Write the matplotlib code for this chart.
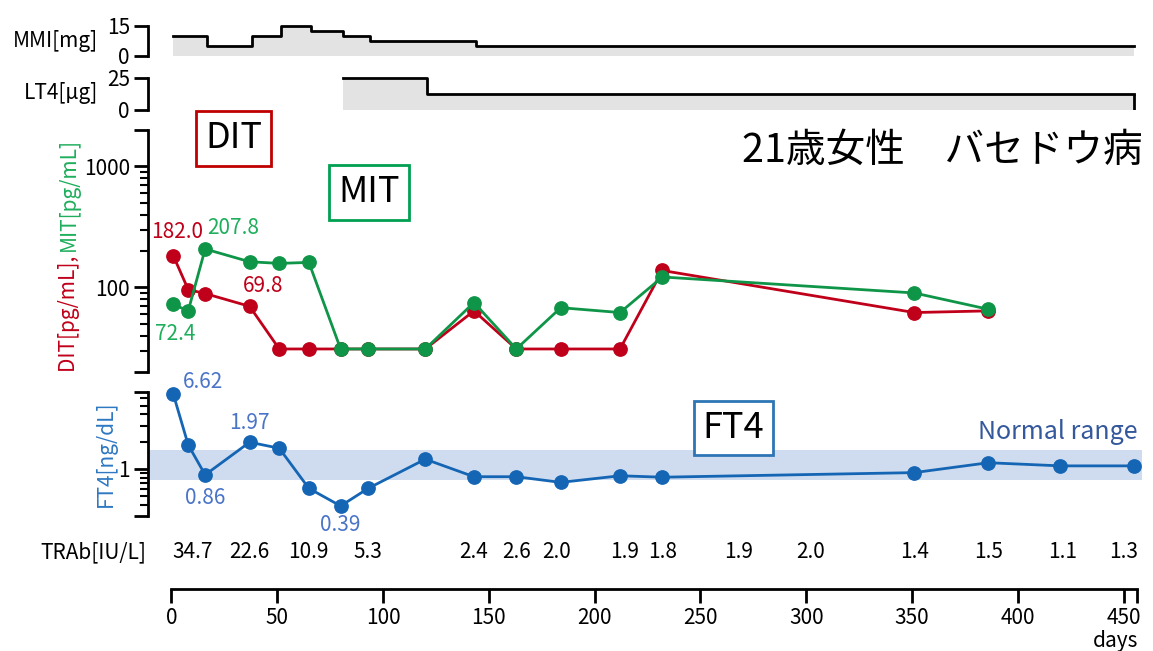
import numpy as np
import matplotlib
matplotlib.use('Agg')
import matplotlib.pyplot as plt
from matplotlib.ticker import FixedLocator, FixedFormatter, LogLocator, NullFormatter

plt.rcParams['font.family'] = ['Noto Sans CJK JP', 'DejaVu Sans']

# 投与量 (MMI, LT4)
mmi_days = [1, 17, 38, 52, 66, 81, 94, 144, 455]
mmi_dose = [10, 5, 10, 15, 12.5, 10, 7.5, 5, 5]
lt4_days = [81, 121, 455]
lt4_dose = [25, 12.5, 12.5]

# DIT / MIT
tg_days = [1, 8, 16, 37, 51, 65, 80, 93, 120, 143, 163, 184, 212, 232, 351, 386]
dit = [182.0, 96, 89, 69.8, 31, 31, 31, 31, 31, 64, 31, 31, 31, 138, 62, 64]
mit = [72.4, 64, 207.8, 163, 158, 161, 31, 31, 31, 75, 31, 68, 62, 122, 90, 66]

# FT4
ft4_days = [1, 8, 16, 37, 51, 65, 80, 93, 120, 143, 163, 184, 212, 232, 351, 386, 420, 455]
ft4 = [6.62, 1.84, 0.86, 1.97, 1.69, 0.61, 0.39, 0.61, 1.28, 0.82, 0.82, 0.71,
       0.84, 0.81, 0.91, 1.17, 1.08, 1.08]
normal_lo, normal_hi = 0.75, 1.6

# TRAb
trab_days = [10, 37, 65, 93, 143, 163, 182, 214, 232, 268, 302, 351, 386, 421, 450]
trab = ['34.7', '22.6', '10.9', '5.3', '2.4', '2.6', '2.0', '1.9', '1.8', '1.9',
        '2.0', '1.4', '1.5', '1.1', '1.3']

RED = '#c0001a'
GREEN = '#0f9548'
GREEN_TXT = '#1fae5c'
BLUE = '#1565b5'
BLUE_TXT = '#4a74c8'
GRAY = '#e3e3e3'

W, H = 1153, 651
fig = plt.figure(figsize=(W / 100, H / 100), dpi=100)

def fx(px):
    return px / W

def fy(py):
    return 1 - py / H

XLIM = (-11, 458.5)
L = fx(148)
AW = (1141.8 - 148) / W

def left_only(ax):
    for s in ['top', 'right', 'bottom']:
        ax.spines[s].set_visible(False)
    ax.spines['left'].set_linewidth(2)
    ax.tick_params(axis='x', bottom=False, labelbottom=False)
    ax.tick_params(axis='y', which='major', length=10, width=2, labelsize=15, pad=3)
    ax.tick_params(axis='y', which='minor', length=6, width=1.5)
    ax.set_xlim(XLIM)
    ax.patch.set_visible(False)

# MMI
ax_mmi = fig.add_axes([L, fy(56), AW, (56 - 25.7) / H])
left_only(ax_mmi)
ax_mmi.fill_between(mmi_days, mmi_dose, step='post', color=GRAY, lw=0)
ax_mmi.step(mmi_days, mmi_dose, where='post', color='black', lw=2, clip_on=False)
ax_mmi.set_ylim(0, 15)
ax_mmi.set_yticks([0, 15])
fig.text(fx(98), fy(41), 'MMI[mg]', ha='right', va='center', fontsize=15)

# LT4
ax_lt4 = fig.add_axes([L, fy(110), AW, (110 - 78) / H])
left_only(ax_lt4)
ax_lt4.fill_between(lt4_days, lt4_dose, step='post', color=GRAY, lw=0)
ax_lt4.step(lt4_days, lt4_dose, where='post', color='black', lw=2, clip_on=False)
ax_lt4.vlines(lt4_days[-1], 0, lt4_dose[-1], color='black', lw=2)
ax_lt4.set_ylim(0, 25)
ax_lt4.set_yticks([0, 25])
fig.text(fx(98), fy(93), 'LT4[μg]', ha='right', va='center', fontsize=15)

# DIT / MIT
ax_tg = fig.add_axes([L, fy(372), AW, (372 - 130) / H])
left_only(ax_tg)
ax_tg.set_yscale('log')
ax_tg.set_ylim(20, 2000)
ax_tg.yaxis.set_major_locator(FixedLocator([20, 100, 1000, 2000]))
ax_tg.yaxis.set_major_formatter(FixedFormatter(['', '100', '1000', '']))
ax_tg.yaxis.set_minor_locator(LogLocator(base=10, subs=np.arange(2, 10)))
ax_tg.yaxis.set_minor_formatter(NullFormatter())
ax_tg.plot(tg_days, dit, '-o', color=RED, lw=2, ms=9.6, zorder=3, clip_on=False)
ax_tg.plot(tg_days, mit, '-o', color=GREEN, lw=2, ms=9.6, zorder=4, clip_on=False)

def label(ax, x, y, s, dx, dy, color):
    ax.annotate(s, (x, y), xytext=(dx * 0.72, -dy * 0.72), textcoords='offset points',
                ha='center', va='center', fontsize=15, color=color, zorder=5)

label(ax_tg, tg_days[0], dit[0], '182.0', 4, -24, RED)
label(ax_tg, tg_days[3], dit[3], '69.8', 14, -20, RED)
label(ax_tg, tg_days[2], mit[2], '207.8', 28, -21, GREEN_TXT)
label(ax_tg, tg_days[0], mit[0], '72.4', 2, 30, GREEN_TXT)

# FT4
ax_ft = fig.add_axes([L, fy(516.3), AW, (516.3 - 392.3) / H])
left_only(ax_ft)
ax_ft.set_yscale('log')
ax_ft.set_ylim(0.3, 7)
ax_ft.yaxis.set_major_locator(FixedLocator([0.3, 1, 7]))
ax_ft.yaxis.set_major_formatter(FixedFormatter(['', '1', '']))
ax_ft.yaxis.set_minor_locator(LogLocator(base=10, subs=np.arange(2, 10)))
ax_ft.yaxis.set_minor_formatter(NullFormatter())
ax_ft.axhspan(normal_lo, normal_hi, color='#cfdcef', lw=0, zorder=0)
ax_ft.plot(ft4_days, ft4, '-o', color=BLUE, lw=2, ms=9.6, zorder=3, clip_on=False)
label(ax_ft, ft4_days[0], ft4[0], '6.62', 30, -12, BLUE_TXT)
label(ax_ft, ft4_days[2], ft4[2], '0.86', 0, 23, BLUE_TXT)
label(ax_ft, ft4_days[3], ft4[3], '1.97', 0, -19, BLUE_TXT)
label(ax_ft, ft4_days[6], ft4[6], '0.39', 0, 19, BLUE_TXT)
fig.text(fx(1138), fy(432), 'Normal range', ha='right', va='center', fontsize=18,
         color='#34589c')
fig.text(fx(106), fy(454), 'FT4[ng/dL]', rotation=90, ha='center', va='center',
         fontsize=15, color='#2e78c2')

# x軸 + TRAb
ax_x = fig.add_axes([L, fy(589), AW, (589 - 540) / H])
for s in ['top', 'right', 'left']:
    ax_x.spines[s].set_visible(False)
ax_x.patch.set_visible(False)
ax_x.spines['bottom'].set_linewidth(2)
ax_x.spines['bottom'].set_bounds(0, 456)
ax_x.set_xlim(XLIM)
ax_x.set_ylim(0, 1)
ax_x.set_yticks([])
ax_x.set_xticks(np.arange(0, 451, 50))
ax_x.set_xticks([456], minor=True)
ax_x.tick_params(axis='x', which='both', length=10, width=2, labelsize=15, pad=3)
tr = ax_x.get_xaxis_transform()
for d, s in zip(trab_days, trab):
    ax_x.text(d, 0.755, s, transform=tr, ha='center', va='center', fontsize=15)
ax_x.text(-12, 0.755, 'TRAb[IU/L]', transform=tr, ha='right', va='center', fontsize=15)
fig.text(fx(1138), fy(641), 'days', ha='right', va='center', fontsize=15)

# 枠付きラベル
fig.text(fx(233.5), fy(138.5), 'DIT', ha='center', va='center', fontsize=26,
         bbox=dict(boxstyle='square,pad=0.25', fc='white', ec='#c00000', lw=2))
fig.text(fx(369), fy(192.5), 'MIT', ha='center', va='center', fontsize=26,
         bbox=dict(boxstyle='square,pad=0.25', fc='white', ec='#00a050', lw=2))
fig.text(fx(733.5), fy(428), 'FT4', ha='center', va='center', fontsize=26,
         bbox=dict(boxstyle='square,pad=0.25', fc='white', ec='#2e75b6', lw=2))

fig.text(fx(1143), fy(151), '21歳女性　バセドウ病', ha='right', va='center', fontsize=28.5)

# 縦軸ラベル (2色)
t_red = fig.text(fx(69), fy(372), 'DIT[pg/mL], ', rotation=90, rotation_mode='anchor',
                 ha='left', va='center', fontsize=15, color=RED)
fig.canvas.draw()
bb = t_red.get_window_extent()
fig.text(fx(69), bb.y1 / H, 'MIT[pg/mL]', rotation=90, rotation_mode='anchor',
         ha='left', va='center', fontsize=15, color=GREEN_TXT)

fig.savefig('out.png', dpi=100)
